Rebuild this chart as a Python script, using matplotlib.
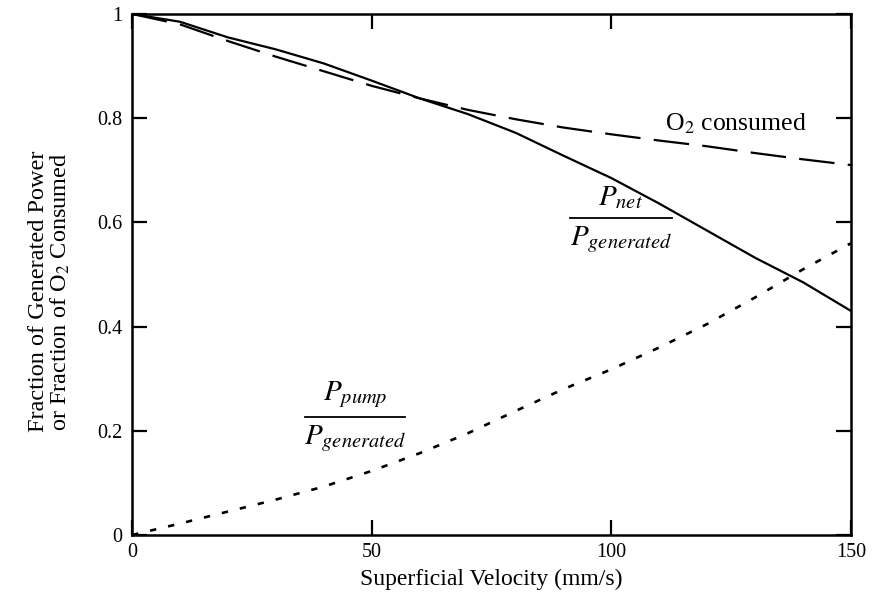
import matplotlib.pyplot as plt
import numpy as np

plt.rcParams['font.family'] = 'Liberation Serif'
plt.rcParams['mathtext.fontset'] = 'stix'

# superficial velocity (mm/s)
velocity = [0, 10, 20, 30, 40, 50, 60, 70, 80, 90, 100, 110, 120, 130, 140, 150]
# P_net / P_generated
net_frac = [1.0, 0.985, 0.955, 0.932, 0.905, 0.872, 0.838, 0.808, 0.772, 0.728,
            0.685, 0.636, 0.584, 0.532, 0.485, 0.43]
# fraction of O2 consumed
o2_frac = [1.0, 0.98, 0.948, 0.918, 0.89, 0.862, 0.838, 0.816, 0.798, 0.782,
           0.769, 0.757, 0.746, 0.733, 0.721, 0.71]
# P_pump / P_generated
pump_frac = [0.0, 0.022, 0.045, 0.068, 0.093, 0.123, 0.157, 0.195, 0.238, 0.28,
             0.318, 0.36, 0.405, 0.456, 0.51, 0.56]

x_ticks = [0, 50, 100, 150]
y_ticks = [0, 0.2, 0.4, 0.6, 0.8, 1.0]
y_tick_labels = ['0', '0.2', '0.4', '0.6', '0.8', '1']

fig = plt.figure(figsize=(8.75, 6.07), dpi=100)
ax = fig.add_axes([0.151, 0.1186, 0.8216, 0.8584])

ax.plot(velocity, net_frac, color='black', linewidth=1.6, linestyle='-')
ax.plot(velocity, o2_frac, color='black', linewidth=1.6, linestyle=(0, (16, 6)))
ax.plot(velocity, pump_frac, color='black', linewidth=1.9, linestyle=(0, (2.4, 4.6)))

# curve labels written as fractions
def frac_label(xc, ybar, half_width, top, bottom):
    ax.plot([xc - half_width, xc + half_width], [ybar, ybar], color='black', linewidth=1.3)
    ax.text(xc, ybar + 0.012, top, ha='center', va='bottom', fontsize=21)
    ax.text(xc, ybar - 0.012, bottom, ha='center', va='top', fontsize=21)

frac_label(102, 0.609, 10.6, r'$P_{net}$', r'$P_{generated}$')
frac_label(46.5, 0.227, 10.5, r'$P_{pump}$', r'$P_{generated}$')
ax.text(111.2, 0.79, r'O$_2$ consumed', ha='left', va='center', fontsize=18.5)

ax.set_xlim(0, 150)
ax.set_ylim(0, 1)
ax.set_xticks(x_ticks)
ax.set_yticks(y_ticks)
ax.set_yticklabels(y_tick_labels)
ax.tick_params(axis='both', direction='in', length=11, width=1.6, labelsize=14.5,
               top=True, right=True)
ax.tick_params(axis='x', pad=6)
ax.tick_params(axis='y', pad=7)
for spine in ax.spines.values():
    spine.set_linewidth(1.8)

ax.set_xlabel('Superficial Velocity (mm/s)', fontsize=17, labelpad=5)
fig.text(0.057, 0.52, 'Fraction of Generated Power\nor Fraction of O$_2$ Consumed',
         rotation=90, ha='center', va='center', fontsize=17.5, linespacing=1.0)

fig.savefig('out.png', dpi=100)
